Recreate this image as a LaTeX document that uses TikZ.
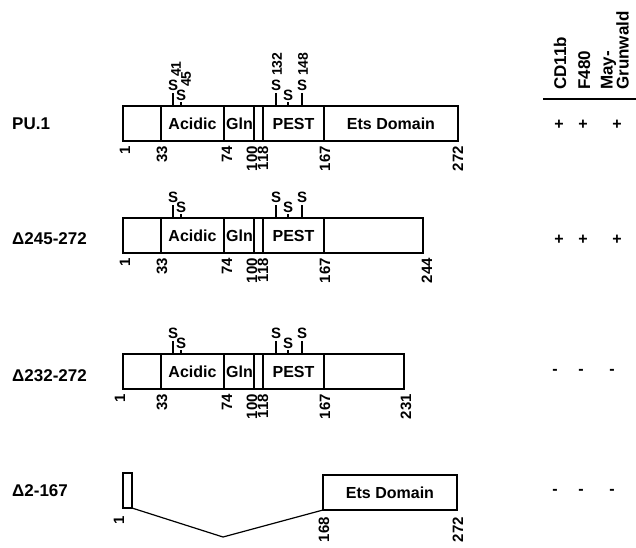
\documentclass[tikz,border=0pt]{standalone}
\usepackage{fontspec}
\setmainfont{Liberation Sans}
\begin{document}
\begin{tikzpicture}[x=1pt,y=-1pt,
  box/.style={line width=1.3pt},
  div/.style={line width=1.1pt},
  dom/.style={font=\fontsize{16}{16}\selectfont\bfseries, inner sep=0pt},
  posnum/.style={font=\fontsize{15}{15}\selectfont\bfseries, rotate=90, anchor=east, inner sep=0pt},
  sres/.style={font=\fontsize{15}{15}\selectfont\bfseries, inner sep=0pt},
  snum/.style={font=\fontsize{14}{14}\selectfont\bfseries, rotate=90, anchor=west, inner sep=0pt},
  rowlab/.style={font=\fontsize{17}{17}\selectfont\bfseries, anchor=west, inner sep=0pt},
  head/.style={font=\fontsize{17}{17}\selectfont\bfseries, rotate=90, anchor=base west, inner sep=0pt},
  res/.style={font=\fontsize{16}{16}\selectfont\bfseries, inner sep=0pt}
]
\useasboundingbox (0,0) rectangle (636,547);

% headers
\node[head] (hcd) at (566,90) {CD11b};
\node[head] (hf) at (590,90) {F480};
\node[head] (hmay) at (612.5,90) {May-};
\node[head] (hgr) at (628.5,90) {Grunwald};
\coordinate (hl) at (543,99);
\coordinate (hr) at (636,99);
\draw[line width=1.6pt] (hl) -- (hr);

% rows 1-3
\foreach \r/\T/\E/\one/\ex/\etxt in {a/106/458/125/458/272, b/218/423/125/427/244, c/354/404/120/406/231}{
  \pgfmathsetmacro\B{\T+35}
  \pgfmathsetmacro\M{\T+17.5}
  \pgfmathsetmacro\L{\B+5}
  \draw[box] (123,\T) rectangle (\E,\B);
  \foreach \xx in {161,224,254,263,324} \draw[div] (\xx,\T) -- (\xx,\B);
  \node[dom] (acid\r) at (192.5,\M) {Acidic};
  \node[dom] (gln\r) at (239.5,\M) {Gln};
  \node[dom] (pest\r) at (293.5,\M) {PEST};
  % residue labels
  \node[posnum] (p1\r) at (\one,\L) {1};
  \node[posnum] (p33\r) at (162,\L) {33};
  \node[posnum] (p74\r) at (227,\L) {74};
  \node[posnum] (p100\r) at (252,\L) {100};
  \node[posnum] (p118\r) at (263,\L) {118};
  \node[posnum] (p167\r) at (325,\L) {167};
  \node[posnum] (pe\r) at (\ex,\L) {\etxt};
  % serines
  \pgfmathsetmacro\Su{\T-21}
  \pgfmathsetmacro\Sl{\T-11}
  \pgfmathsetmacro\Tu{\T-13}
  \pgfmathsetmacro\Tl{\T-4}
  \node[sres] (s1\r) at (173,\Su) {S};
  \node[sres] (s2\r) at (181,\Sl) {S};
  \node[sres] (s3\r) at (276,\Su) {S};
  \node[sres] (s4\r) at (288,\Sl) {S};
  \node[sres] (s5\r) at (302,\Su) {S};
  \draw[div] (173,\Tu) -- (173,\T);
  \draw[div] (181,\Tl) -- (181,\T);
  \draw[div] (276,\Tu) -- (276,\T);
  \draw[div] (288,\Tl) -- (288,\T);
  \draw[div] (302,\Tu) -- (302,\T);
}
\node[dom] (etsa) at (391,123.5) {Ets Domain};

% serine numbers (row 1)
\node[snum] (n41) at (176,77) {41};
\node[snum] (n45) at (186,87) {45};
\node[snum] (n132) at (277,76) {132};
\node[snum] (n148) at (303,76) {148};

% row 4
\draw[box] (123,473) rectangle (132,508);
\draw[box] (323,475) rectangle (457,510);
\node[dom] (etsd) at (390,492.5) {Ets Domain};
\coordinate (c1) at (132,508);
\coordinate (c2) at (223,537);
\coordinate (c3) at (323,510);
\draw[line width=1.2pt] (c1) -- (c2) -- (c3);
\node[posnum] (p1d) at (119,516) {1};
\node[posnum] (p168d) at (324,517) {168};
\node[posnum] (p272d) at (458,517) {272};

% row labels
\node[rowlab] (lab1) at (12,124) {PU.1};
\node[rowlab] (lab2) at (12,239) {Δ245-272};
\node[rowlab] (lab3) at (12,376) {Δ232-272};
\node[rowlab] (lab4) at (12,491) {Δ2-167};

% results
\node[res] (ra1) at (559,125) {+};
\node[res] (ra2) at (583,125) {+};
\node[res] (ra3) at (617,125) {+};
\node[res] (rb1) at (559,240) {+};
\node[res] (rb2) at (583,240) {+};
\node[res] (rb3) at (617,240) {+};
\node[res] (rc1) at (555,372) {-};
\node[res] (rc2) at (581,372) {-};
\node[res] (rc3) at (612,372) {-};
\node[res] (rd1) at (555,492) {-};
\node[res] (rd2) at (581,492) {-};
\node[res] (rd3) at (612,492) {-};
\end{tikzpicture}
\end{document}
